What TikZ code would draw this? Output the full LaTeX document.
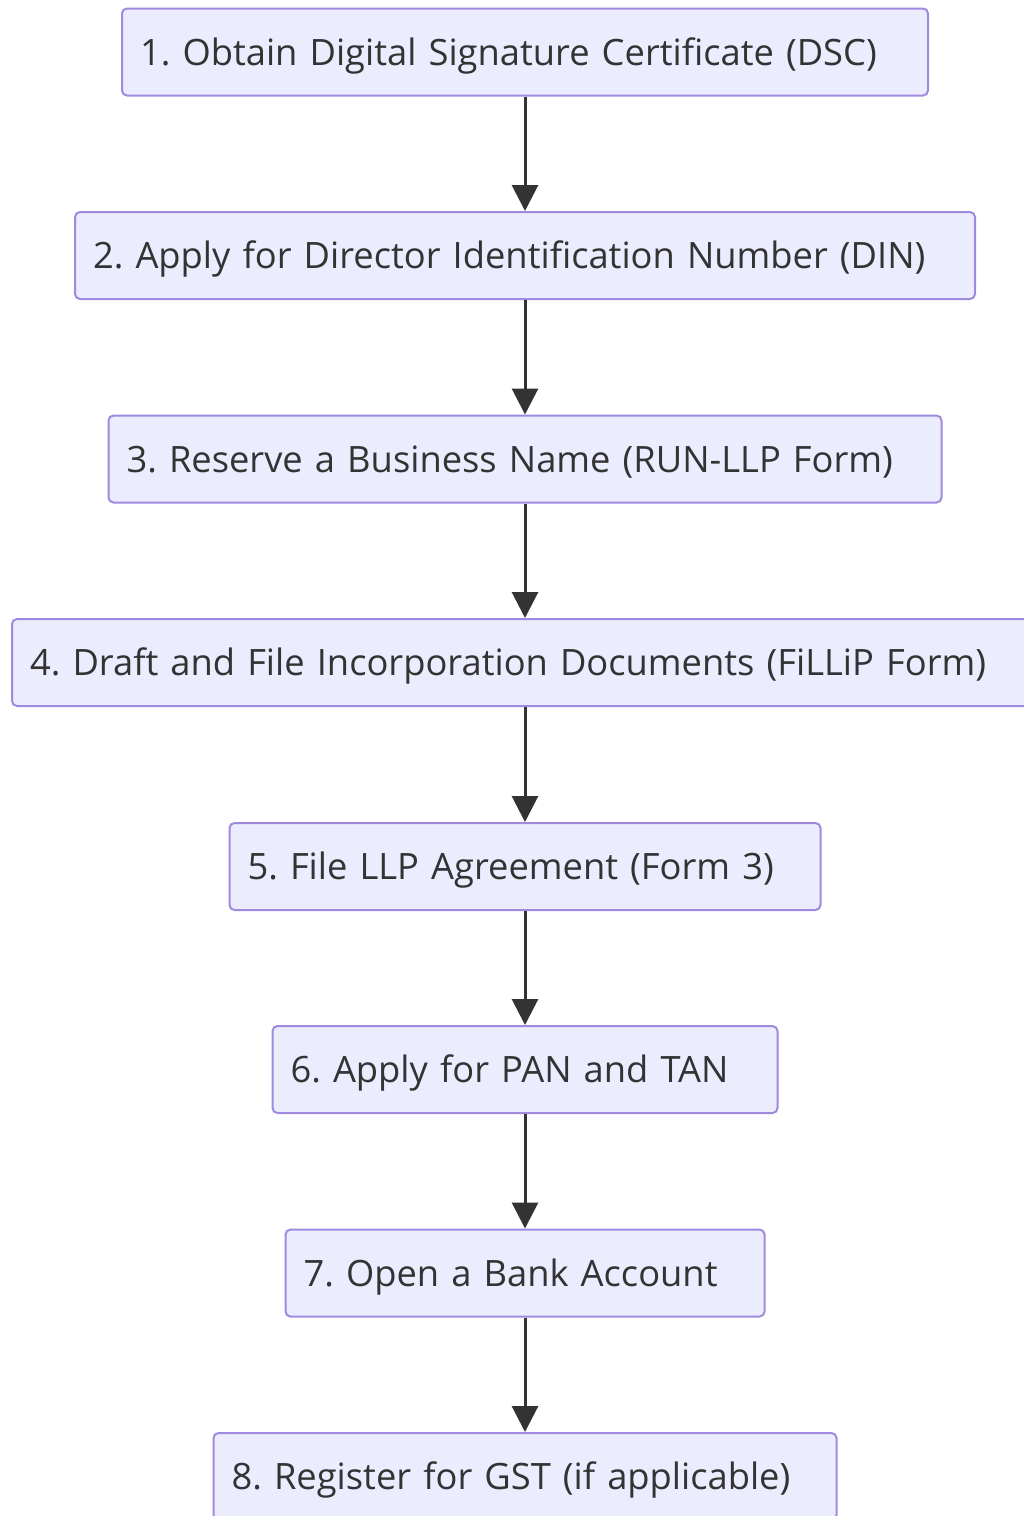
\documentclass[tikz,border=0pt]{standalone}
\usepackage{fontspec}
\setmainfont{Open Sans}
\usetikzlibrary{arrows.meta}
\definecolor{boxfill}{HTML}{ECECFF}
\definecolor{boxline}{HTML}{9F8AE0}
\definecolor{ink}{HTML}{333333}
\begin{document}
\frenchspacing
\begin{tikzpicture}[x=1pt,y=-1pt,
  stepbox/.style={draw=boxline, fill=boxfill, line width=2pt, rounded corners=5pt,
    minimum height=87pt, inner xsep=18pt, inner ysep=0pt, align=left,
    text height=26pt, text depth=0pt,
    text=ink, font=\fontsize{36.3}{42}\selectfont, anchor=center},
  flow/.style={draw=ink, line width=3pt, -{Triangle[length=26pt,width=26pt]}}]
\useasboundingbox (0,0) rectangle (1024,1516);
\fill[white] (0,0) rectangle (1024,1516);
\node[stepbox, text width=770pt] (s1) at (525,52) {1. Obtain Digital Signature Certificate (DSC)};
\node[stepbox, text width=864pt] (s2) at (525,255.5) {2. Apply for Director Identification Number (DIN)};
\node[stepbox, text width=797pt] (s3) at (525,459) {3. Reserve a Business Name (RUN-LLP Form)};
\node[stepbox, text width=1010pt] (s4) at (535,662.5) {4. Draft and File Incorporation Documents (FiLLiP Form)};
\node[stepbox, text width=555pt] (s5) at (525,866.5) {5. File LLP Agreement (Form 3)};
\node[stepbox, text width=469pt] (s6) at (525,1069.5) {6. Apply for PAN and TAN};
\node[stepbox, text width=443pt] (s7) at (525,1273) {7. Open a Bank Account};
\node[stepbox, text width=587pt] (s8) at (525,1476.5) {8. Register for GST (if applicable)};
\foreach \a/\b in {s1/s2,s2/s3,s5/s6,s6/s7,s7/s8}
  \draw[flow] (\a.south) -- (\b.north);
% the wide step 4 box is off-centre, so keep its connectors vertical
\draw[flow] (s3.south) -- (s3.south |- s4.north);
\draw[flow] (s5.north |- s4.south) -- (s5.north);
\end{tikzpicture}
\end{document}
